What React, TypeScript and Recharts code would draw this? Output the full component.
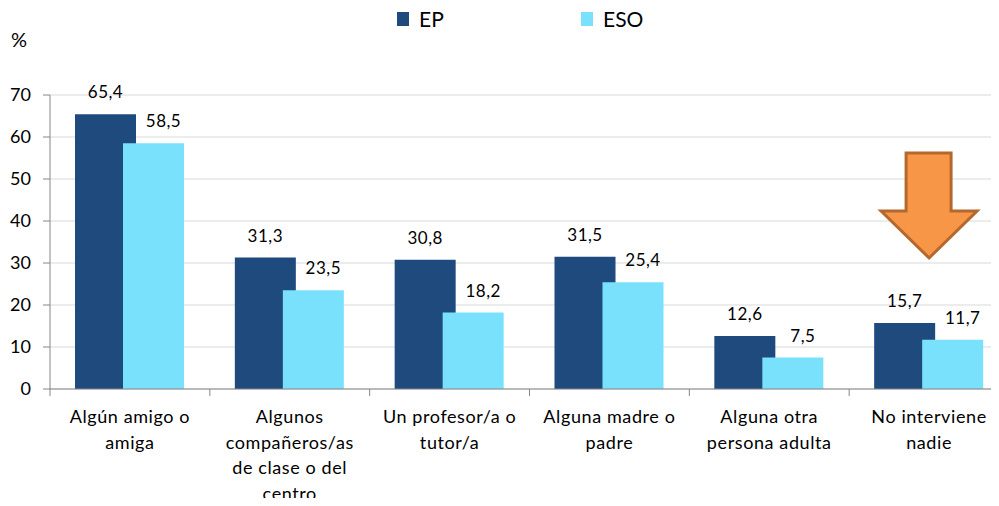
import React from 'react';
import { BarChart, Bar, XAxis, YAxis, CartesianGrid, LabelList, Legend, ReferenceDot } from 'recharts';

const categories = [
  'Algún amigo o amiga',
  'Algunos compañeros/as de clase o del centro',
  'Un profesor/a o tutor/a',
  'Alguna madre o padre',
  'Alguna otra persona adulta',
  'No interviene nadie',
];
const categoryLines = [
  ['Algún amigo o', 'amiga'],
  ['Algunos', 'compañeros/as', 'de clase o del', 'centro'],
  ['Un profesor/a o', 'tutor/a'],
  ['Alguna madre o', 'padre'],
  ['Alguna otra', 'persona adulta'],
  ['No interviene', 'nadie'],
];
const epValues = [65.4, 31.3, 30.8, 31.5, 12.6, 15.7];
const esoValues = [58.5, 23.5, 18.2, 25.4, 7.5, 11.7];
const yTicks = [0, 10, 20, 30, 40, 50, 60, 70];
const arrowCategory = 'No interviene nadie';
const arrowTipValue = 31.2;

const data = categories.map((name, i) => ({ name, EP: epValues[i], ESO: esoValues[i] }));

const FONT = 'Lato, "Open Sans", sans-serif';
const EP_COLOR = '#1F4A7E';
const ESO_COLOR = '#7AE1FC';
const AXIS = '#868686';

const CHART_W = 1015;
const CHART_H = 506;
const MARGIN = { top: 95, right: 6, left: 0, bottom: 0 };
const Y_W = 50;
const BAND = (CHART_W - MARGIN.left - MARGIN.right - Y_W) / categories.length;

const CategoryTick = (props: any) => {
  const { x, y, payload } = props;
  const idx = categories.indexOf(payload.value);
  const lines = categoryLines[idx] || [payload.value];
  return (
    <g>
      <line x1={x - BAND / 2} x2={x - BAND / 2} y1={y - 8} y2={y - 1} stroke={AXIS} />
      {idx === categories.length - 1 && (
        <line x1={x + BAND / 2} x2={x + BAND / 2} y1={y - 8} y2={y - 1} stroke={AXIS} />
      )}
      <text
        x={x}
        y={y + 26}
        textAnchor="middle"
        fontSize={18}
        letterSpacing={0.6}
        fill="#000"
        fontFamily={FONT}
      >
        {lines.map((l, i) => (
          <tspan key={i} x={x} dy={i === 0 ? 0 : 25.5}>
            {l}
          </tspan>
        ))}
      </text>
    </g>
  );
};

const valueLabel = (dx: number) => (props: any) => {
  const { x, y, width, value } = props;
  return (
    <text
      x={x + width / 2 + dx}
      y={y - 16}
      textAnchor="middle"
      fontSize={17}
      letterSpacing={0.5}
      fill="#000"
      fontFamily={FONT}
    >
      {String(value).replace('.', ',')}
    </text>
  );
};

const Arrow = (props: any) => {
  const { cx, cy } = props;
  const pts = [
    [0, 0],
    [-48, -47],
    [-23, -47],
    [-23, -105],
    [22, -105],
    [22, -47],
    [48, -47],
  ]
    .map(([px, py]) => `${cx + px},${cy + py}`)
    .join(' ');
  return <polygon points={pts} fill="#F79646" stroke="#B5682E" strokeWidth={3} strokeLinejoin="miter" />;
};

const LegendContent = () => (
  <div style={{ display: 'flex', fontFamily: FONT, fontSize: 21, color: '#000' }}>
    {[
      { name: 'EP', color: EP_COLOR },
      { name: 'ESO', color: ESO_COLOR },
    ].map((it) => (
      <div key={it.name} style={{ width: 184, display: 'flex', alignItems: 'center' }}>
        <span style={{ width: 12, height: 14, background: it.color, display: 'inline-block', marginRight: 10 }} />
        <span>{it.name}</span>
      </div>
    ))}
  </div>
);

export default function App() {
  return (
    <div style={{ position: 'relative', width: 999, height: 506, margin: -8, overflow: 'hidden', background: '#fff' }}>
      <div style={{ position: 'absolute', left: 11, top: 27, fontFamily: FONT, fontSize: 20, color: '#000' }}>%</div>
      <BarChart width={CHART_W} height={CHART_H} data={data} margin={MARGIN} barSize={61} barGap={-13}>
        <CartesianGrid vertical={false} stroke="#D9D9D9" />
        <XAxis
          dataKey="name"
          height={117}
          interval={0}
          stroke={AXIS}
          tickLine={false}
          tick={<CategoryTick />}
        />
        <YAxis
          width={Y_W}
          domain={[0, 70]}
          ticks={yTicks}
          interval={0}
          stroke={AXIS}
          tickSize={7}
          tickMargin={12}
          tick={{ fill: '#000', fontSize: 18, fontFamily: FONT }}
        />
        <Legend
          layout="vertical"
          align="center"
          verticalAlign="middle"
          content={<LegendContent />}
          wrapperStyle={{ position: 'absolute', top: 6, left: 397, width: 400 }}
        />
        <Bar dataKey="EP" fill={EP_COLOR} isAnimationActive={false}>
          <LabelList dataKey="EP" content={valueLabel(0)} />
        </Bar>
        <Bar dataKey="ESO" fill={ESO_COLOR} isAnimationActive={false}>
          <LabelList dataKey="ESO" content={valueLabel(10)} />
        </Bar>
        <ReferenceDot x={arrowCategory} y={arrowTipValue} shape={<Arrow />} />
      </BarChart>
    </div>
  );
}
